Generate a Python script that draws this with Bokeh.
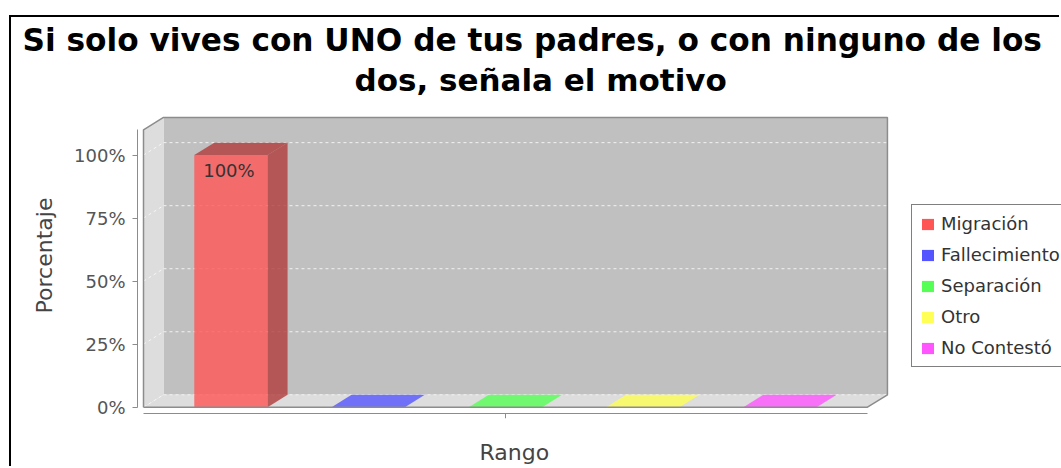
from bokeh.plotting import figure
from bokeh.models import (FixedTicker, Range1d, Legend, LegendItem, Title, LinearAxis)
from bokeh.embed import file_html
from bokeh.resources import INLINE
from bokeh.core.properties import value

# ---------------- data ----------------
title_lines = ["Si solo vives con UNO de tus padres, o con ninguno de los",
               "dos, señala el motivo"]
series = ["Migración", "Fallecimiento", "Separación", "Otro", "No Contestó"]
percent = [100, 0, 0, 0, 0]
series_colors = ["#FF5555", "#5555FF", "#55FF55", "#FFFF55", "#FF55FF"]
y_ticks = [0, 25, 50, 75, 100]
y_tick_labels = ["0%", "25%", "50%", "75%", "100%"]
x_label = "Rango"
y_label = "Porcentaje"
y_max = 110

# ---------------- geometry / style constants ----------------
BAR_W = 0.534      # bar width in category units
MARGIN = 0.637     # front-plane margin around the outer bars
DX = 0.1455        # 3D depth (x, category units)
DY = 4.93          # 3D depth (y, percent units)
PX_X = 137.27      # pixels per category unit
PX_Y = 2.5295      # pixels per percent
W, H = 1050, 451
FR_L, FR_T, FR_B = 126, 79, 55     # frame borders (left, top, bottom)
ALPHA = 0.8
FONT = "DejaVu Sans"
NAN = float("nan")


def darker(hexcol, f=0.7):
    h = hexcol.lstrip("#")
    r, g, b = (int(h[i:i + 2], 16) for i in (0, 2, 4))
    return "#%02X%02X%02X" % (int(r * f), int(g * f), int(b * f))


n = len(series)
centers = list(range(n))
X0 = -MARGIN
X1 = (n - 1) + MARGIN
x_start = X0 - 6 / PX_X
x_end = x_start + (W - FR_L) / PX_X
y_start = -6.3 / PX_Y
y_end = y_start + (H - FR_T - FR_B) / PX_Y

p = figure(width=W, height=H, output_backend="svg", toolbar_location=None,
           title=title_lines[0],
           x_range=Range1d(x_start, x_end), y_range=Range1d(y_start, y_end),
           min_border_left=FR_L, min_border_right=0, min_border_top=FR_T,
           min_border_bottom=FR_B, margin=(15, 0, 0, 9))
p.styles = {"border-top": "2px solid black", "border-left": "2px solid black"}
p.background_fill_color = "white"
p.border_fill_color = "white"
p.outline_line_color = None
p.grid.visible = False

# ---- 3D plot box ----
p.quad(left=[X0 + DX], right=[X1 + DX], bottom=[DY], top=[y_max + DY],
       fill_color="#C0C0C0", line_color=None)
p.patch(x=[X0, X0 + DX, X0 + DX, X0], y=[0, DY, y_max + DY, y_max],
        fill_color="#DDDDDD", line_color=None)
p.patch(x=[X0, X1, X1 + DX, X0 + DX], y=[0, 0, DY, DY],
        fill_color="#DDDDDD", line_color=None)

# grid lines (back wall and left wall)
p.segment(x0=[X0 + DX] * len(y_ticks), x1=[X1 + DX] * len(y_ticks),
          y0=[t + DY for t in y_ticks], y1=[t + DY for t in y_ticks],
          line_color="#F2F2F2", line_width=1, line_dash="3 3")
p.segment(x0=[X0] * len(y_ticks), x1=[X0 + DX] * len(y_ticks),
          y0=y_ticks, y1=[t + DY for t in y_ticks],
          line_color="#F6F6F6", line_width=1, line_dash="3 3")

# ---- bars ----
lefts = [c - BAR_W / 2 for c in centers]
rights = [c + BAR_W / 2 for c in centers]
top_colors = [darker(col) if v > 0 else col for col, v in zip(series_colors, percent)]
side_colors = [darker(col) for col in series_colors]

p.quad(left=lefts, right=rights, bottom=[0] * n, top=percent,
       fill_color=series_colors, fill_alpha=ALPHA, line_color=None)
p.patches(xs=[[r, r + DX, r + DX, r] for r in rights],
          ys=[[0, DY, v + DY, v] for v in percent],
          fill_color=side_colors, fill_alpha=ALPHA, line_color=None)
p.patches(xs=[[l, r, r + DX, l + DX] for l, r in zip(lefts, rights)],
          ys=[[v, v, v + DY, v + DY] for v in percent],
          fill_color=top_colors, fill_alpha=ALPHA, line_color=None)

# value labels
lab_x = [c for c, v in zip(centers, percent) if v > 0]
lab_y = [v for v in percent if v > 0]
lab_t = ["%d%%" % v for v in percent if v > 0]
p.text(x=lab_x, y=lab_y, text=lab_t, text_align="center", text_baseline="top",
       x_offset=-2, y_offset=5, text_font=value(FONT), text_font_size="18px",
       text_color="#333333")

# outline of the 3D box
p.line(x=[X0, X0, X0 + DX, X1 + DX, X1 + DX, X1, X0],
       y=[0, y_max, y_max + DY, y_max + DY, DY, 0, 0],
       line_color="#8C8C8C", line_width=1.5)

# ---- axes ----
yax = p.yaxis[0]
yax.ticker = FixedTicker(ticks=y_ticks)
yax.major_label_overrides = dict(zip(y_ticks, y_tick_labels))
yax.bounds = (0, y_max)
yax.axis_line_color = "#8C8C8C"
yax.major_tick_line_color = "#8C8C8C"
yax.major_tick_out = 5
yax.major_tick_in = 0
yax.minor_tick_out = 0
yax.minor_tick_in = 0
yax.major_label_text_font = FONT
yax.major_label_text_font_size = "18px"
yax.major_label_text_color = "#555555"
yax.major_label_standoff = 7
yax.axis_label = y_label
yax.axis_label_text_font = FONT
yax.axis_label_text_font_size = "22px"
yax.axis_label_text_font_style = "normal"
yax.axis_label_text_color = "#444444"
yax.axis_label_standoff = 14

mid = sum(centers) / n
xax = p.xaxis[0]
xax.ticker = FixedTicker(ticks=[], minor_ticks=[mid])
xax.bounds = (X0, X1)
xax.axis_line_color = "#8C8C8C"
xax.major_tick_line_color = "#8C8C8C"
xax.major_tick_out = 0
xax.major_tick_in = 0
xax.minor_tick_line_color = "#8C8C8C"
xax.minor_tick_out = 5
xax.minor_tick_in = 0
xax.major_label_standoff = 0

# blank band between the category axis and its title (white tick on white)
gap_axis = LinearAxis(ticker=FixedTicker(ticks=[], minor_ticks=[mid]),
                      axis_line_color=None, major_tick_line_color=None,
                      major_tick_out=0, major_tick_in=0,
                      minor_tick_line_color="white", minor_tick_out=19,
                      minor_tick_in=0, major_label_standoff=0)
p.add_layout(gap_axis, "below")

# ---- titles ----
p.title.align = "left"
p.title.offset = -115
p.title.text_font = FONT
p.title.text_font_style = "bold"
p.title.text_font_size = "31.2px"
p.title.text_color = "black"
p.title.standoff = 4
t2 = Title(text=title_lines[1], align="left", offset=217, text_font=FONT,
           text_font_style="bold", text_font_size="31px", text_color="black",
           standoff=0)
p.add_layout(t2, "above")
tb = Title(text=x_label, align="left", offset=342, text_font=FONT,
           text_font_style="normal", text_font_size="22px", text_color="#444444",
           standoff=0)
p.add_layout(tb, "below")

# ---- legend ----
items = []
for name, col in zip(series, series_colors):
    r = p.quad(left=[NAN], right=[NAN], bottom=[NAN], top=[NAN],
               fill_color=col, line_color=None)
    items.append(LegendItem(label=name, renderers=[r]))
legend = Legend(items=items, location=(774, 46), border_line_color="black",
                border_line_width=1.5, label_text_font=FONT, label_text_font_size="18px",
                label_text_color="#333333", glyph_width=15, glyph_height=14,
                label_standoff=6, label_height=20, label_width=135, spacing=10,
                padding=8, margin=0,
                background_fill_color="white", background_fill_alpha=1.0)
p.add_layout(legend)

open("out.html", "w").write(file_html(p, INLINE))
